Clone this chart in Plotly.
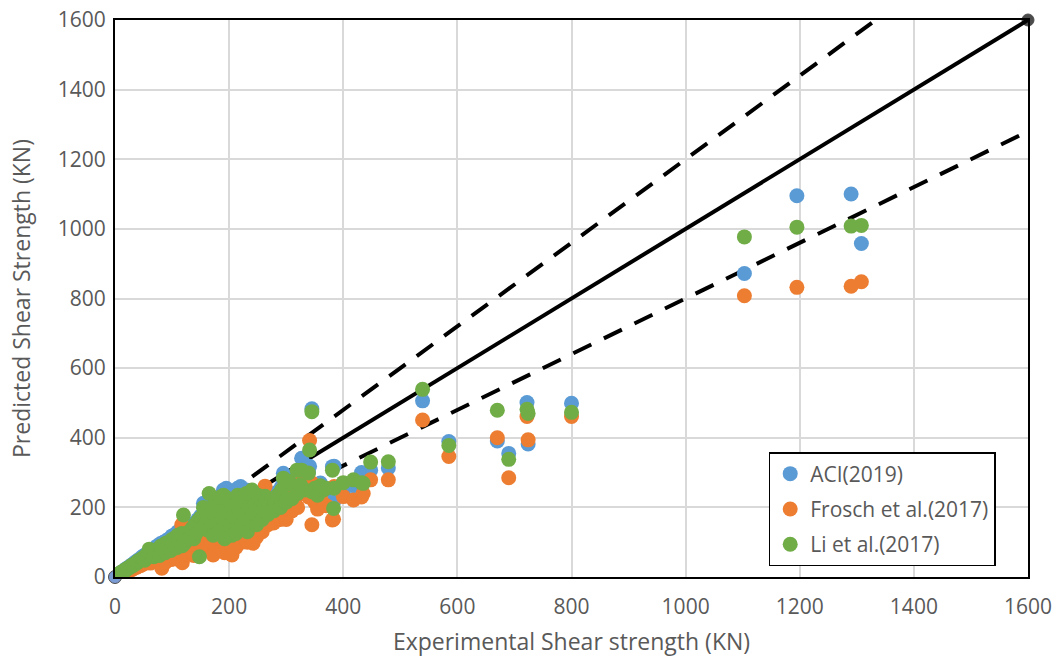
import plotly.graph_objects as go

# Experimental shear strength (kN) and predictions of three design models
experimental = [
    5, 8, 10, 12, 15, 18, 20, 22, 25, 28, 30, 32, 35, 38, 40, 42, 45, 48, 50, 52,
    55, 58, 60, 62, 65, 68, 70, 72, 75, 78, 80, 82, 85, 88, 90, 92, 95, 98, 100, 102,
    105, 108, 110, 112, 117, 118, 120, 122, 125, 128, 130, 132, 135, 138, 140, 142, 145, 148, 150, 152,
    155, 158, 160, 162, 165, 168, 170, 172, 175, 178, 180, 182, 185, 188, 190, 192, 195, 198, 200, 202,
    205, 208, 210, 212, 215, 218, 220, 222, 225, 228, 230, 232, 235, 238, 240, 242, 245, 248, 250, 252,
    255, 258, 260, 263, 265, 268, 270, 275, 278, 280, 285, 290, 292, 295, 298, 300, 305, 310, 315, 319,
    320, 325, 327, 333, 339, 341, 345, 345, 350, 355, 360, 365, 370, 381, 384, 383, 400, 418, 432, 435,
    448, 479, 539, 585, 670, 690, 722, 724, 800, 1103, 1195, 1290, 1308,
]
aci_2019 = [
    6, 9, 12, 14, 17, 20, 24, 26, 28, 33, 35, 36, 42, 44, 47, 50, 52, 58, 60, 55,
    66, 64, 72, 70, 78, 62, 84, 75, 90, 70, 96, 85, 100, 80, 105, 95, 110, 88, 118, 105,
    122, 95, 130, 120, 130, 100, 140, 110, 135, 118, 145, 125, 150, 120, 155, 140, 165, 95, 175, 145,
    212, 160, 200, 150, 210, 170, 190, 140, 200, 165, 215, 150, 225, 175, 250, 130, 255, 190, 240, 160,
    210, 185, 230, 140, 255, 200, 260, 165, 235, 180, 250, 140, 215, 170, 245, 195, 225, 160, 230, 185,
    210, 175, 200, 240, 230, 190, 215, 235, 200, 225, 245, 210, 260, 298, 225, 240, 280, 230, 270, 290,
    250, 275, 341, 260, 300, 318, 483, 250, 265, 240, 270, 255, 250, 317, 318, 215, 240, 262, 300, 285,
    307, 313, 506, 389, 391, 355, 501, 382, 499, 872, 1095, 1100, 958,
]
frosch_2017 = [
    4, 6, 8, 9, 11, 13, 15, 16, 18, 21, 22, 24, 27, 28, 30, 32, 33, 36, 38, 40,
    42, 44, 46, 40, 50, 45, 54, 48, 55, 44, 60, 25, 65, 42, 70, 55, 62, 50, 75, 60,
    78, 52, 85, 70, 150, 41, 95, 68, 80, 65, 90, 75, 100, 62, 95, 85, 110, 70, 115, 80,
    120, 95, 130, 90, 140, 100, 120, 63, 135, 95, 145, 85, 150, 105, 160, 70, 180, 120, 155, 95,
    63, 115, 145, 85, 165, 130, 170, 100, 150, 110, 175, 100, 140, 110, 160, 97, 180, 115, 200, 140,
    150, 130, 170, 261, 190, 150, 160, 175, 155, 180, 200, 165, 230, 255, 170, 165, 240, 190, 220, 250,
    200, 240, 274, 279, 230, 392, 150, 270, 215, 195, 230, 210, 205, 164, 260, 166, 231, 221, 230, 240,
    279, 279, 451, 346, 400, 285, 461, 394, 461, 808, 832, 835, 848,
]
li_2017 = [
    7, 10, 13, 12, 18, 19, 22, 25, 27, 30, 34, 33, 38, 40, 45, 46, 50, 52, 56, 48,
    62, 60, 80, 66, 70, 58, 76, 65, 80, 62, 88, 78, 92, 70, 98, 85, 100, 76, 108, 96,
    112, 84, 120, 104, 125, 90, 178, 98, 120, 108, 130, 115, 140, 110, 150, 125, 160, 58, 170, 140,
    200, 150, 190, 135, 240, 160, 185, 120, 210, 150, 200, 130, 230, 170, 235, 110, 228, 185, 220, 150,
    120, 175, 210, 125, 235, 190, 230, 150, 215, 165, 240, 130, 200, 160, 250, 185, 210, 150, 235, 175,
    200, 165, 195, 232, 220, 180, 205, 225, 190, 215, 235, 200, 250, 284, 215, 215, 275, 225, 260, 307,
    240, 265, 307, 250, 299, 365, 475, 245, 255, 235, 262, 250, 255, 307, 255, 197, 271, 279, 271, 269,
    330, 331, 539, 378, 479, 338, 482, 470, 473, 977, 1005, 1008, 1010,
]

# Reference lines: perfect agreement and +/-20 % bounds
equal_x = [0, 1600]
equal_y = [0, 1600]
upper_x = [0, 1333.3]
upper_y = [0, 1600]
lower_x = [0, 1600]
lower_y = [0, 1280]

series = [
    ("ACI(2019)", aci_2019, "#5B9BD5"),
    ("Frosch et al.(2017)", frosch_2017, "#ED7D31"),
    ("Li et al.(2017)", li_2017, "#70AD47"),
]

font_family = "'Open Sans', sans-serif"
grey = "#595959"

fig = go.Figure()

fig.add_trace(go.Scatter(
    x=upper_x, y=upper_y, mode="lines", showlegend=False, hoverinfo="skip",
    line=dict(color="black", width=4, dash="20px,14px"),
))
fig.add_trace(go.Scatter(
    x=lower_x, y=lower_y, mode="lines", showlegend=False, hoverinfo="skip",
    line=dict(color="black", width=4, dash="20px,14px"),
))
fig.add_trace(go.Scatter(
    x=equal_x, y=equal_y, mode="lines+markers", showlegend=False, hoverinfo="skip",
    line=dict(color="black", width=4),
    marker=dict(color=["#4472C4", "black"], size=[13, 12]),
    cliponaxis=False,
))

for i, (name, values, color) in enumerate(series):
    fig.add_trace(go.Scatter(
        x=experimental, y=values, mode="markers", name=name,
        legendgroup=f"g{i}",
        marker=dict(color=color, size=15, line=dict(width=0)),
    ))

axis_common = dict(
    range=[0, 1600], dtick=200, tick0=0,
    showgrid=True, gridcolor="#D9D9D9", gridwidth=1.5,
    showline=True, linecolor="black", linewidth=2, mirror=True,
    zeroline=False, automargin=False,
    ticks="outside", tickcolor="rgba(0,0,0,0)",
    tickfont=dict(family=font_family, size=21, color=grey),
)

fig.update_layout(
    width=1055, height=657,
    margin=dict(l=115, r=27, t=20, b=80),
    paper_bgcolor="white", plot_bgcolor="white",
    font=dict(family=font_family, color=grey),
    xaxis=dict(**axis_common, ticklen=10,
               title=dict(text="Experimental Shear strength (KN)",
                          font=dict(family=font_family, size=23, color=grey),
                          standoff=19)),
    yaxis=dict(**axis_common, ticklen=3,
               title=dict(text="Predicted Shear Strength (KN)",
                          font=dict(family=font_family, size=23, color=grey),
                          standoff=21)),
    legend=dict(
        x=0.716, y=0.2244, xanchor="left", yanchor="top",
        bgcolor="white", bordercolor="black", borderwidth=1.5,
        font=dict(family=font_family, size=21, color=grey),
        tracegroupgap=5,
    ),
)

fig.write_html("out.html")
